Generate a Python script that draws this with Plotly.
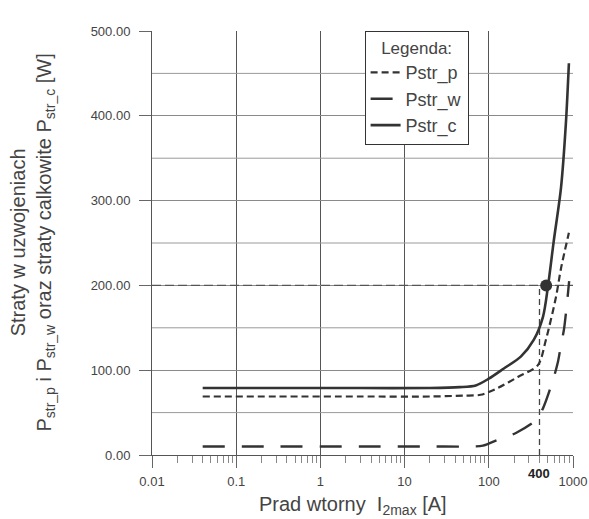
import plotly.graph_objects as go

# ---- data ----
I_c = [0.04, 0.3, 3, 20, 45, 70, 100, 151, 240, 343, 440, 503, 590, 720, 823, 894]
P_c = [79, 79, 79, 79, 80, 82, 90, 102, 116, 136, 163, 198, 252, 315, 391, 462]

I_p = [0.04, 0.3, 3, 20, 50, 80, 128, 221, 383, 477, 627, 720, 894]
P_p = [69, 69, 69, 69, 70, 71, 79, 92, 106, 136, 186, 220, 262]

I_w = [0.04, 0.3, 3, 20, 50, 85, 121, 210, 362, 440, 577, 663, 720, 781, 850, 900]
P_w = [10, 10, 10, 10, 10, 11, 17, 26, 41, 55, 88, 110, 130, 148, 180, 205]

mark_I = 400        # marked current (vertical dashed line)
mark_P = 200        # marked power level (horizontal dashed line)
dot_I = [480]
dot_P = [200]

x_tickvals = [0.01, 0.1, 1, 10, 100, 1000]
x_ticktext = ["0.01", "0.1", "1", "10", "100", "1000"]
half_grid_levels = [50, 150, 250, 350, 450]   # intermediate horizontal grid lines

ink = "#333333"
font = "Liberation Sans, Arial, sans-serif"

fig = go.Figure()

# intermediate grid lines (every 50 W)
gx, gy = [], []
for lv in half_grid_levels:
    gx += [x_tickvals[0], x_tickvals[-1], None]
    gy += [lv, lv, None]
fig.add_trace(go.Scatter(x=gx, y=gy, mode="lines", line=dict(color="#9a9a9a", width=1),
                         showlegend=False, hoverinfo="skip"))

# reference lines
fig.add_trace(go.Scatter(x=[x_tickvals[0], x_tickvals[-1]], y=[mark_P, mark_P], mode="lines",
                         line=dict(color="#555555", width=1.3, dash="9px,4px"),
                         showlegend=False, hoverinfo="skip"))
fig.add_trace(go.Scatter(x=[mark_I, mark_I], y=[0, mark_P], mode="lines",
                         line=dict(color="#444444", width=1.3, dash="6px,4px"),
                         showlegend=False, hoverinfo="skip"))

fig.add_trace(go.Scatter(x=I_p, y=P_p, mode="lines", name="Pstr_p",
                         line=dict(color=ink, width=2.2, dash="7px,4px", shape="spline", smoothing=0.8)))
fig.add_trace(go.Scatter(x=I_w, y=P_w, mode="lines", name="Pstr_w",
                         line=dict(color=ink, width=2.4, dash="22px,17px", shape="spline", smoothing=0.8)))
fig.add_trace(go.Scatter(x=I_c, y=P_c, mode="lines", name="Pstr_c",
                         line=dict(color=ink, width=2.6, shape="spline", smoothing=0.8)))
fig.add_trace(go.Scatter(x=dot_I, y=dot_P, mode="markers", showlegend=False,
                         marker=dict(color=ink, size=12)))

fig.add_annotation(x=2.602, y=0, xref="x", yref="paper", yanchor="top", yshift=-9,
                   text="<b>400</b>", showarrow=False,
                   font=dict(family=font, size=13, color="#222222"))

# axis titles
fig.add_annotation(x=0.477, y=-0.12, xref="paper", yref="paper",
                   xanchor="center", yanchor="middle", showarrow=False,
                   text="Prad wtorny  I<sub>2max</sub> [A]",
                   font=dict(family=font, size=20, color="#444444"))
fig.add_annotation(x=-0.286, y=0.5, xref="paper", yref="paper",
                   xanchor="center", yanchor="middle", showarrow=False, textangle=-90,
                   text="Straty w uzwojeniach<br>P<sub>str_p</sub> i P<sub>str_w</sub> oraz straty calkowite P<sub>str_c</sub> [W]",
                   font=dict(family=font, size=20, color="#444444"))

fig.update_layout(
    width=589, height=519,
    margin=dict(l=152, r=16, t=31, b=64),
    paper_bgcolor="white", plot_bgcolor="white",
    font=dict(family=font, color="#444444"),
    legend=dict(
        x=0.505, y=1.0, xanchor="left", yanchor="top",
        bgcolor="white", bordercolor="#333333", borderwidth=1,
        title=dict(text="Legenda:", side="top center", font=dict(size=17, color="#444444")),
        font=dict(size=18, color="#444444"),
        tracegroupgap=0,
    ),
    xaxis=dict(
        type="log", range=[-2, 3], automargin=False,
        tickvals=x_tickvals, ticktext=x_ticktext,
        tickfont=dict(size=13, color="#444444"),
        showgrid=True, gridcolor="#555555", gridwidth=1,
        ticks="outside", ticklen=12, tickcolor="#666666", ticklabelstandoff=2,
        showline=True, linecolor="#555555", linewidth=1,
        minor=dict(ticks="outside", ticklen=7, tickcolor="#888888", dtick="D1", showgrid=False),
        zeroline=False,
    ),
    yaxis=dict(
        range=[0, 500], automargin=False,
        tickmode="linear", tick0=0, dtick=100, tickformat=".2f",
        tickfont=dict(size=13, color="#444444"),
        showgrid=True, gridcolor="#8a8a8a", gridwidth=1,
        ticks="outside", ticklen=12, tickcolor="#666666", ticklabelstandoff=6,
        showline=True, linecolor="#555555", linewidth=1,
        zeroline=False,
    ),
)

fig.write_html("out.html")
